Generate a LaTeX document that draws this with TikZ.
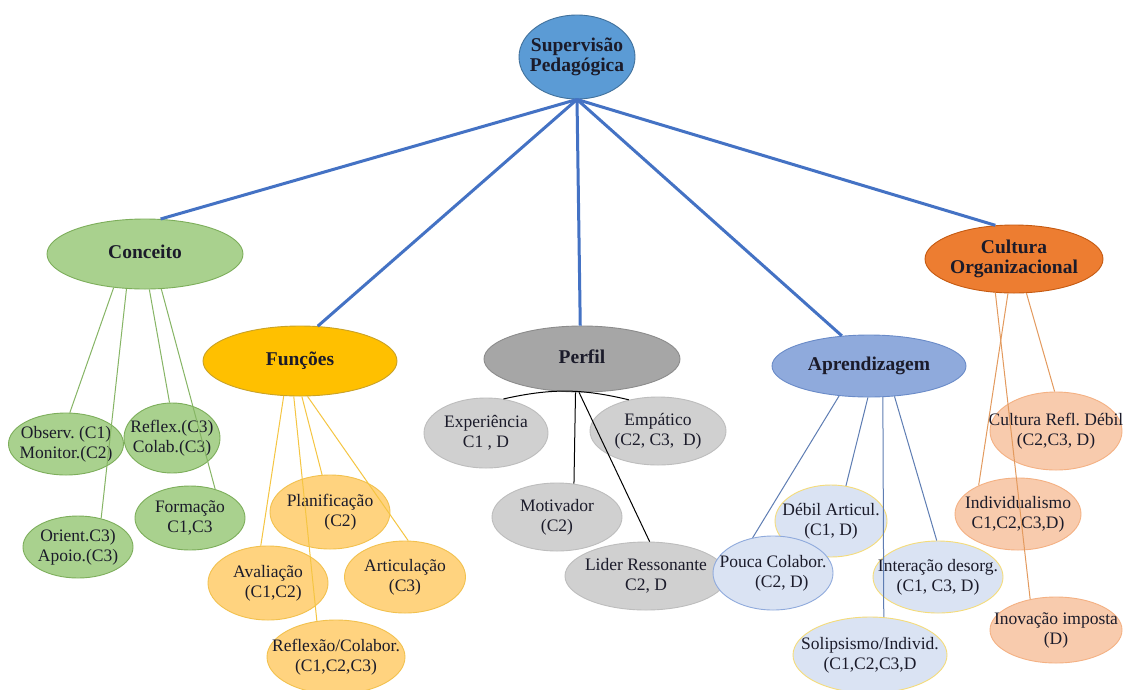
\documentclass[tikz,border=0pt]{standalone}
\usepackage{fontspec}
\setmainfont{Liberation Serif}
\usetikzlibrary{shapes.geometric}
\frenchspacing
\definecolor{txt}{HTML}{1B1B2A}
\definecolor{supfill}{HTML}{5B9BD5}
\definecolor{supdraw}{HTML}{41719C}
\definecolor{mainline}{HTML}{4472C4}
\definecolor{cfill}{HTML}{A9D18E}
\definecolor{cdraw}{HTML}{7DAE5B}
\definecolor{cline}{HTML}{86B565}
\definecolor{ffill}{HTML}{FFC000}
\definecolor{fdraw}{HTML}{C9A227}
\definecolor{fcfill}{HTML}{FFD37F}
\definecolor{fcdraw}{HTML}{F2C14E}
\definecolor{fline}{HTML}{F5C542}
\definecolor{pfill}{HTML}{A6A6A6}
\definecolor{pdraw}{HTML}{8C8C8C}
\definecolor{pcfill}{HTML}{D0D0D0}
\definecolor{pcdraw}{HTML}{BDBDBD}
\definecolor{afill}{HTML}{8FAADC}
\definecolor{adraw}{HTML}{6A8BC8}
\definecolor{acfill}{HTML}{DAE3F3}
\definecolor{acdrawy}{HTML}{F5DC7A}
\definecolor{acdrawb}{HTML}{8FAADC}
\definecolor{aline}{HTML}{5E7DB3}
\definecolor{ofill}{HTML}{ED7D31}
\definecolor{odraw}{HTML}{C55A11}
\definecolor{ocfill}{HTML}{F8CBAD}
\definecolor{ocdraw}{HTML}{F4B183}
\definecolor{oline}{HTML}{E39A5E}
\newcommand{\lbl}[1]{\makebox[0pt]{\begin{tabular}{@{}c@{}}#1\end{tabular}}}
\tikzset{
  base/.style={ellipse, inner sep=0pt, line width=0.9pt, text=txt},
  topn/.style={base, font=\bfseries\fontsize{19.5}{20}\selectfont},
  leaf/.style={base, font=\fontsize{17.5}{20}\selectfont},
  sz/.style 2 args={minimum width=#1pt, minimum height=#2pt},
  supn/.style={topn, fill=supfill, draw=supdraw},
  conn/.style={topn, fill=cfill, draw=cdraw},
  conleaf/.style={leaf, fill=cfill, draw=cdraw},
  funn/.style={topn, fill=ffill, draw=fdraw},
  funleaf/.style={leaf, fill=fcfill, draw=fcdraw},
  pern/.style={topn, fill=pfill, draw=pdraw},
  perleaf/.style={leaf, fill=pcfill, draw=pcdraw},
  aprn/.style={topn, fill=afill, draw=adraw},
  aprleafy/.style={leaf, fill=acfill, draw=acdrawy},
  aprleafb/.style={leaf, fill=acfill, draw=acdrawb},
  orgn/.style={topn, fill=ofill, draw=odraw},
  orgleaf/.style={leaf, fill=ocfill, draw=ocdraw},
  mainedge/.style={draw=mainline, line width=3pt},
  cedge/.style={draw=cline, line width=1pt},
  fedge/.style={draw=fline, line width=1pt},
  pedge/.style={draw=black, line width=1pt},
  aedge/.style={draw=aline, line width=1pt},
  oedge/.style={draw=oline, line width=1pt}
}
\begin{document}
\begin{tikzpicture}[x=1pt,y=-1pt]
\useasboundingbox[fill=white] (0,0) rectangle (1123,689);
% top level
\node[supn, sz={116}{84}] (sup) at (577,57) {\lbl{Supervisão\\Pedagógica}};
\node[conn, sz={196}{70}] (conceito) at (145,254) {\lbl{Conceito}};
\node[funn, sz={194}{70}] (funcoes) at (300,361) {\lbl{Funções}};
\node[pern, sz={196}{66}] (perfil) at (582,359) {\lbl{Perfil}};
\node[aprn, sz={194}{62}] (aprend) at (869,366) {\lbl{Aprendizagem}};
\node[orgn, sz={178}{68}] (cultura) at (1014,259) {\lbl{Cultura\\Organizacional}};
% Conceito leaves
\node[conleaf, sz={115}{62}] (observ) at (66,444) {\lbl{Observ. (C1)\\Monitor.(C2)}};
\node[conleaf, sz={96}{70}] (reflex) at (172,438) {\lbl{Reflex.(C3)\\Colab.(C3)}};
\node[conleaf, sz={110}{62}] (orient) at (78,547) {\lbl{Orient.C3)\\Apoio.(C3)}};
\node[conleaf, sz={110}{64}] (formacao) at (190,518) {\lbl{Formação\\C1,C3}};
% Funcoes leaves
\node[funleaf, sz={120}{74}] (planif) at (330,512) {\lbl{Planificação\\\hspace*{1.2em}(C2)}};
\node[funleaf, sz={120}{74}] (avalia) at (268,583) {\lbl{Avaliação\\\hspace*{0.6em}(C1,C2)}};
\node[funleaf, sz={121}{72}] (articula) at (405,577) {\lbl{Articulação\\(C3)}};
\node[funleaf, sz={138}{74}] (reflcol) at (336,657) {\lbl{Reflexão/Colabor.\\(C1,C2,C3)}};
% Perfil leaves
\node[perleaf, sz={124}{70}] (exper) at (486,433) {\lbl{Experiência\\C1 , D}};
\node[perleaf, sz={136}{68}] (empat) at (658,431) {\lbl{Empático\\(C2, C3, \ D)}};
\node[perleaf, sz={130}{68}] (motiv) at (557,517) {\lbl{Motivador\\(C2)}};
\node[perleaf, sz={162}{68}] (lider) at (646,576) {\lbl{Lider Ressonante\\C2, D}};
% Aprendizagem leaves
\node[aprleafy, sz={112}{72}] (debil) at (831,521) {\lbl{Débil Articul.\\(C1, D)}};
\node[aprleafb, sz={120}{74}] (pouca) at (773,573) {\lbl{Pouca Colabor.\\\hspace*{1em}(C2, D)}};
\node[aprleafy, sz={130}{72}] (intera) at (938,577) {\lbl{Interação desorg.\\(C1, C3, D)}};
\node[aprleafy, sz={154}{76}] (solip) at (870,655) {\lbl{Solipsismo/Individ.\\(C1,C2,C3,D}};
% Cultura leaves
\node[orgleaf, sz={132}{78}] (culref) at (1056,431) {\lbl{Cultura Refl. Débil\\(C2,C3, D)}};
\node[orgleaf, sz={126}{72}] (indiv) at (1018,514) {\lbl{Individualismo\\C1,C2,C3,D)}};
\node[orgleaf, sz={132}{66}] (inov) at (1056,630) {\lbl{Inovação imposta\\(D)}};
% main connectors
\draw[mainedge] (sup.south) -- (conceito.66);
\draw[mainedge] (sup.south) -- (funcoes.63);
\draw[mainedge] (sup.south) -- (perfil.93);
\draw[mainedge] (sup.south) -- (aprend.132);
\draw[mainedge] (sup.south) -- (cultura.119);
% Conceito
\draw[cedge] (conceito.227) -- (observ.83);
\draw[cedge] (conceito.242) -- (orient.51);
\draw[cedge] (conceito.277) -- (reflex.94);
\draw[cedge] (conceito.295) -- (formacao.49);
% Funcoes
\draw[fedge] (funcoes.245) -- (avalia.101);
\draw[fedge] (funcoes.260) -- (reflcol.118);
\draw[fedge] (funcoes.273) -- (planif.102);
\draw[fedge] (funcoes.282) -- (articula.85);
% Perfil
\draw[pedge] (exper.63) to[bend left=13] (empat.133);
\draw[pedge] (perfil.259) -- (motiv.63);
\draw[pedge] (perfil.265) -- (lider.84);
% Aprendizagem
\draw[aedge] (aprend.225) -- (pouca.120);
\draw[aedge] (aprend.268) -- (debil.67);
\draw[aedge] (aprend.294) -- (solip.70);
\draw[aedge] (aprend.310) -- (intera.92);
% Cultura
\draw[oedge] (cultura.241) -- (inov.130);
\draw[oedge] (cultura.260) -- (indiv.144);
\draw[oedge] (cultura.290) -- (culref.92);
\end{tikzpicture}
\end{document}
